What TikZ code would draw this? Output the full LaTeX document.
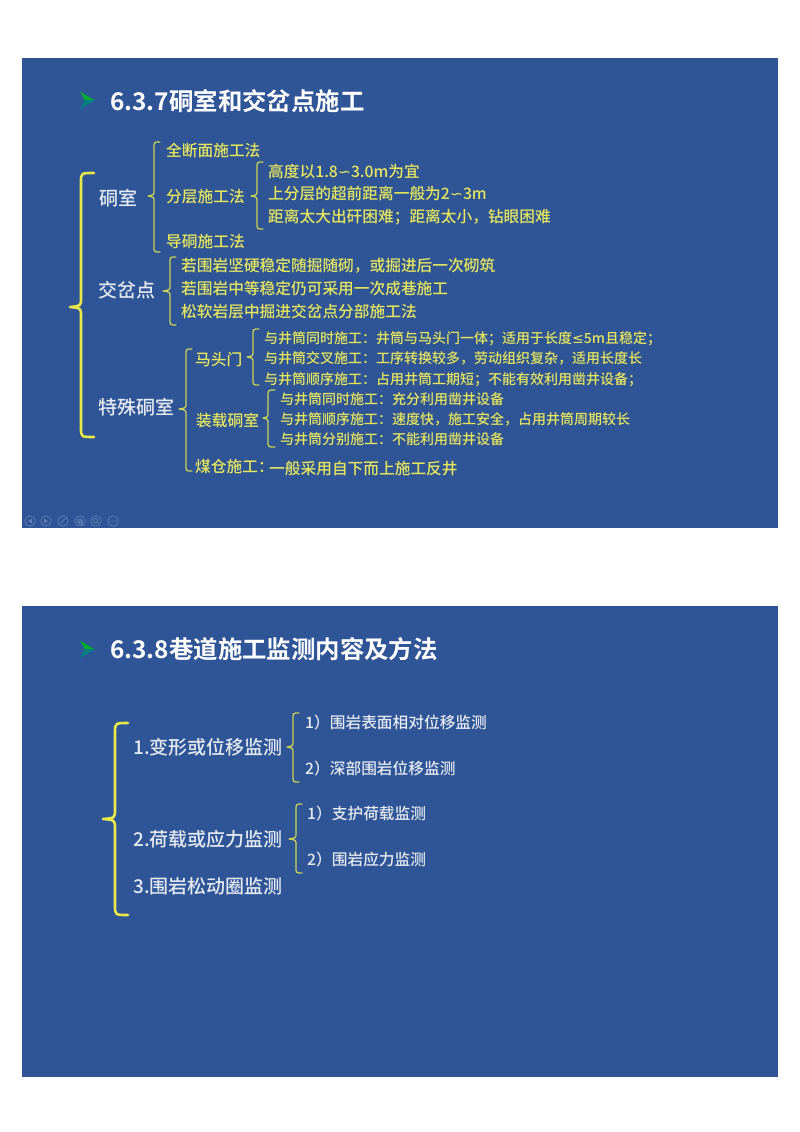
\documentclass[tikz,border=0pt]{standalone}
\usepackage{fontspec}
\setmainfont{Noto Sans CJK SC Medium}[BoldFont={Noto Sans CJK SC Bold}]
\newfontfamily\symf{DejaVu Sans}
\definecolor{slidebg}{HTML}{2F5597}
\definecolor{ylw}{HTML}{E6E65C}
\definecolor{wht}{HTML}{E4EAF2}
\definecolor{brc}{HTML}{E8E84A}
\definecolor{thin}{HTML}{C9D455}
\definecolor{icon}{HTML}{5F7FB4}
\tikzset{
  slide/.style={fill=slidebg,draw=none},
  lbl/.style={anchor=west,inner sep=0pt,text height=0.8em,text depth=0.2em,yshift=-3.2pt},
  title/.style={lbl,yshift=-1.8pt,text=white,font=\fontsize{24.4}{28}\selectfont\bfseries},
  headw/.style={lbl,text=wht,font=\fontsize{19}{22}\selectfont},
  ylwA/.style={lbl,text=ylw,font=\fontsize{15.7}{18}\selectfont},
  ylwB/.style={lbl,text=ylw,font=\fontsize{14}{16}\selectfont},
  subw/.style={lbl,text=wht,font=\fontsize{15.7}{18}\selectfont},
  bigbrace/.style={draw=brc,line width=2.6pt,line cap=round,line join=round},
  smallbrace/.style={draw=thin,line width=1.3pt,line cap=round,line join=round},
  tool/.style={draw=icon,line width=0.7pt},
}
% style, end x, spine x, tip x, top y, mid y, bottom y, corner radius
\newcommand{\mybrace}[8]{%
  \draw[#1] (#2,#5) .. controls (#3,#5) and (#3,#5) .. (#3,#5+#8)
    -- (#3,#6-#8) .. controls (#3,#6-1) .. (#4,#6)
    .. controls (#3,#6+1) .. (#3,#6+#8)
    -- (#3,#7-#8) .. controls (#3,#7) and (#3,#7) .. (#2,#7);}
\newcommand{\arrowmark}[2]{%
  \fill[green!60!black!80!cyan] (#1,#2) -- (#1+15,#2+0.5) -- (#1,#2-8.5) -- (#1+5,#2+0.5) -- cycle;
  \fill[teal] (#1,#2+9) -- (#1+15,#2+0.5) -- (#1+5,#2+0.5) -- cycle;}
\newcommand{\toolbtn}[2]{\draw[tool] (#1,#2) circle (5.2);}
\newcommand{\tl}{{\symf ∽}}
\newcommand{\lemark}{{\symf ≤}}
\begin{document}
\begin{tikzpicture}[x=1pt,y=-1pt]
\useasboundingbox (0,0) rectangle (800,1132);
\fill[white] (0,0) rectangle (800,1132);
\fill[slide] (22,58) rectangle (778,528);
\fill[slide] (22,606) rectangle (778,1077);

% ---- slide 1
\arrowmark{80}{100}
\node[title] (t1) at (110,102) {6.3.7硐室和交岔点施工};

\mybrace{bigbrace}{94}{81}{70}{173}{307}{437}{9}
\mybrace{smallbrace}{160}{154}{148}{142}{196}{252}{6}
\mybrace{smallbrace}{263}{257}{251}{162}{196}{229}{6}
\mybrace{smallbrace}{176}{170}{163}{257}{291}{325}{6}
\mybrace{smallbrace}{192}{186}{179}{349}{409}{471}{6}
\mybrace{smallbrace}{259}{253}{247}{329}{357}{385}{6}
\mybrace{smallbrace}{275}{268}{263}{390}{418}{447}{6}

\node[headw] (a1) at (99,199) {硐室};
\node[headw] (a2) at (98,291) {交岔点};
\node[headw] (a3) at (98,408) {特殊硐室};

\node[ylwA] (b1) at (166,150) {全断面施工法};
\node[ylwA] (b2) at (166,196) {分层施工法};
\node[ylwA] (b3) at (166,241) {导硐施工法};
\node[ylwA] (c1) at (268,171) {高度以1.8\tl{}3.0m为宜};
\node[ylwA] (c2) at (268,193) {上分层的超前距离一般为2\tl{}3m};
\node[ylwA] (c3) at (268,216) {距离太大出矸困难；距离太小，钻眼困难};
\node[ylwA] (d1) at (181,265) {若围岩坚硬稳定随掘随砌，或掘进后一次砌筑};
\node[ylwA] (d2) at (181,288) {若围岩中等稳定仍可采用一次成巷施工};
\node[ylwA] (d3) at (181,311) {松软岩层中掘进交岔点分部施工法};

\node[ylwA] (e1) at (195,359) {马头门};
\node[ylwA] (e2) at (196,420) {装载硐室};
\node[ylwA] (e3) at (195,466) {煤仓施工：};
\node[ylwA] (e4) at (269,468) {一般采用自下而上施工反井};

\node[ylwB] (f1) at (264,337) {与井筒同时施工：井筒与马头门一体；适用于长度\lemark{}5m且稳定；};
\node[ylwB] (f2) at (264,357.5) {与井筒交叉施工：工序转换较多，劳动组织复杂，适用长度长};
\node[ylwB] (f3) at (264,378) {与井筒顺序施工：占用井筒工期短；不能有效利用凿井设备；};
\node[ylwB] (g1) at (280,398) {与井筒同时施工：充分利用凿井设备};
\node[ylwB] (g2) at (280,418) {与井筒顺序施工：速度快，施工安全，占用井筒周期较长};
\node[ylwB] (g3) at (280,438) {与井筒分别施工：不能利用凿井设备};

% toolbar
\toolbtn{30}{521}\toolbtn{46}{521}\toolbtn{63}{521}\toolbtn{80}{521}\toolbtn{96}{521}\toolbtn{113}{521}
\fill[icon] (28,521) -- (32,518.5) -- (32,523.5) -- cycle;
\fill[icon] (48,521) -- (44,518.5) -- (44,523.5) -- cycle;
\draw[tool] (60.5,524) -- (65.5,518);
\draw[tool] (77.5,519) rectangle (81,522.5) (79,520.5) rectangle (82.5,524);
\draw[tool] (95.5,520.5) circle (2.2) (97,522) -- (99,524);
\fill[icon] (110.5,521) circle (0.7) (113,521) circle (0.7) (115.5,521) circle (0.7);

% ---- slide 2
\arrowmark{80}{649}
\node[title] (t2) at (110,650) {6.3.8巷道施工监测内容及方法};

\mybrace{bigbrace}{128}{115}{103}{723}{819}{915}{10}
\mybrace{smallbrace}{299}{293}{287}{713}{747}{782}{6}
\mybrace{smallbrace}{302}{296}{289}{804}{839}{873}{6}

\node[headw] (h1) at (133,748) {1.变形或位移监测};
\node[headw] (h2) at (133,840) {2.荷载或应力监测};
\node[headw] (h3) at (133,887) {3.围岩松动圈监测};

\node[subw] (i1) at (305,722) {1）围岩表面相对位移监测};
\node[subw] (i2) at (305,768) {2）深部围岩位移监测};
\node[subw] (i3) at (307,813) {1）支护荷载监测};
\node[subw] (i4) at (307,859) {2）围岩应力监测};
\end{tikzpicture}
\end{document}
